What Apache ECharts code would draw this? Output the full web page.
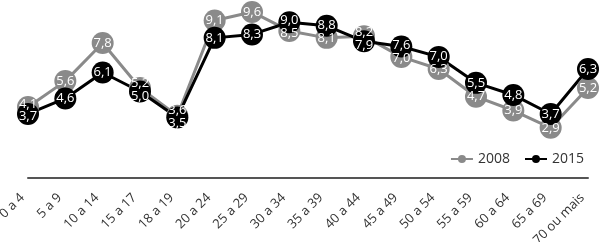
<!DOCTYPE html>
<html><head><meta charset="utf-8">
<script src="https://cdn.jsdelivr.net/npm/echarts@6/dist/echarts.min.js"></script>
<style>html,body{margin:0;padding:0;background:#fff}#c{width:600px;height:242px}</style>
</head><body><div id="c"></div>
<script>
const categories = ['0 a 4','5 a 9','10 a 14','15 a 17','18 a 19','20 a 24','25 a 29','30 a 34','35 a 39','40 a 44','45 a 49','50 a 54','55 a 59','60 a 64','65 a 69','70 ou mais'];
const s2008 = [4.1,5.6,7.8,5.2,3.6,9.1,9.6,8.5,8.1,8.2,7.0,6.3,4.7,3.9,2.9,5.2];
const s2015 = [3.7,4.6,6.1,5.0,3.5,8.1,8.3,9.0,8.8,7.9,7.6,7.0,5.5,4.8,3.7,6.3];
const FONT = 'Open Sans';
const PX_PER_UNIT = 17.3, LABEL_H = 12.5;
const chart = echarts.init(document.getElementById('c'), null, {renderer:'canvas'});
const all = [s2008, s2015];
function layout(p){
  const i = p.dataIndex, s = p.seriesIndex;
  const mine = all[s][i], other = all[1-s][i];
  const gap = Math.abs(mine-other)*PX_PER_UNIT;
  if (gap >= LABEL_H) return {};
  const need = (LABEL_H - gap)/2;
  if (mine > other) return {dy:-need};
  if (mine < other) return {dy:need};
  return {};
}
function ser(name, data, color){
  return {name, type:'line', data, symbol:'circle', symbolSize:22,
    lineStyle:{color, width:3}, itemStyle:{color},
    labelLayout:layout,
    label:{show:true, position:'inside', color:'#fff', fontFamily:FONT, fontSize:13, lineHeight:13,
      formatter:p=>p.value.toFixed(1).replace('.',',')}};
}
chart.setOption({
  animation:false,
  textStyle:{fontFamily:FONT},
  grid:{left:28, right:12, top:5, bottom:64, containLabel:false, outerBoundsMode:'none'},
  legend:{right:11, top:147, itemWidth:22, itemHeight:10, itemGap:14,
    textStyle:{fontFamily:FONT, fontSize:14, color:'#333'},
    data:['2008','2015']},
  xAxis:{type:'category', data:categories, boundaryGap:false,
    axisLine:{lineStyle:{color:'#555', width:2}}, axisTick:{show:false},
    axisLabel:{rotate:45, fontFamily:FONT, fontSize:13, color:'#333', interval:0, margin:12, padding:[0,8,0,0]}},
  yAxis:{type:'value', min:0, max:10, show:false, splitLine:{show:false}},
  series:[ser('2008', s2008, '#8a8a8a'), ser('2015', s2015, '#000')]
});
</script></body></html>
